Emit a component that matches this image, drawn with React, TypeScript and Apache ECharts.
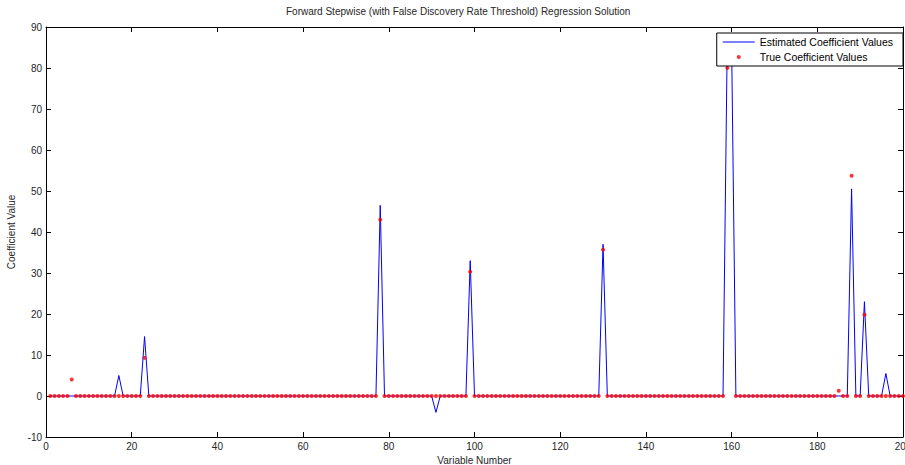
import React, { useEffect, useRef } from "react";
import * as echarts from "echarts";

// ---- Data ----
const N_VARIABLES = 200;
const xTicks = [0, 20, 40, 60, 80, 100, 120, 140, 160, 180, 200];
const yTicks = [-10, 0, 10, 20, 30, 40, 50, 60, 70, 80, 90];

// Estimated coefficients (non-zero entries; all others are 0)
const estimatedIdx = [17, 23, 78, 91, 99, 130, 159, 160, 188, 191, 196];
const estimatedVal = [5, 14.5, 46.5, -4, 33, 37, 88, 86, 50.5, 23, 5.5];

// True coefficients (non-zero entries; all others are 0)
const trueIdx = [6, 23, 78, 99, 130, 159, 160, 185, 188, 191];
const trueVal = [4, 9.3, 43, 30.3, 35.7, 80, 85, 1.3, 53.7, 19.8];

const TITLE = "Forward Stepwise (with False Discovery Rate Threshold) Regression Solution";
const SERIES_EST = "Estimated Coefficient Values";
const SERIES_TRUE = "True Coefficient Values";

function buildSeries(idx: number[], val: number[]): number[][] {
  const out: number[][] = [];
  for (let i = 1; i <= N_VARIABLES; i++) {
    const k = idx.indexOf(i);
    out.push([i, k >= 0 ? val[k] : 0]);
  }
  return out;
}

export default function App() {
  const ref = useRef<HTMLDivElement>(null);
  useEffect(() => {
    if (!ref.current) return;
    const chart = echarts.init(ref.current, undefined, { renderer: "svg" });
    const font = "Liberation Sans, Arial, sans-serif";
    const axisColor = "#000";
    const labelColor = "#262626";
    const xAxisCommon = {
      type: "value",
      min: xTicks[0],
      max: xTicks[xTicks.length - 1],
      interval: 20,
      splitLine: { show: false },
      axisLine: { show: true, onZero: false, lineStyle: { color: axisColor, width: 1 } },
      axisTick: { show: true, inside: true, length: 5, lineStyle: { color: axisColor } },
    };
    const yAxisCommon = {
      type: "value",
      min: yTicks[0],
      max: yTicks[yTicks.length - 1],
      interval: 10,
      splitLine: { show: false },
      axisLine: { show: true, onZero: false, lineStyle: { color: axisColor, width: 1 } },
      axisTick: { show: true, inside: true, length: 5, lineStyle: { color: axisColor } },
    };
    chart.setOption({
      animation: false,
      backgroundColor: "#fff",
      textStyle: { fontFamily: font },
      title: {
        text: TITLE,
        left: 286,
        top: 6,
        padding: 0,
        textStyle: { fontSize: 10, fontWeight: "normal", color: labelColor, fontFamily: font },
      },
      grid: {
        left: 46,
        right: 2,
        top: 27,
        bottom: 28,
        containLabel: false,
        outerBoundsMode: "none",
      },
      legend: {
        orient: "vertical",
        right: 2,
        top: 33,
        z: 20,
        padding: [3, 10, 3, 6],
        itemGap: 3,
        itemWidth: 32,
        itemHeight: 4,
        backgroundColor: "#fff",
        borderColor: "#000",
        borderWidth: 1,
        borderRadius: 0,
        selectedMode: false,
        textStyle: { fontSize: 10.5, color: "#000", fontFamily: font, lineHeight: 12 },
        data: [
          { name: SERIES_EST, icon: "path://M0,0L32,0L32,1L0,1Z" },
          { name: SERIES_TRUE, icon: "circle" },
        ],
      },
      xAxis: [
        {
          ...xAxisCommon,
          position: "bottom",
          name: "Variable Number",
          nameLocation: "middle",
          nameGap: 16,
          nameTextStyle: { fontSize: 10, color: labelColor, fontFamily: font },
          axisLabel: { show: true, fontSize: 10, color: labelColor, margin: 4, fontFamily: font },
        },
        {
          ...xAxisCommon,
          position: "top",
          axisLabel: { show: false },
        },
      ],
      yAxis: [
        {
          ...yAxisCommon,
          position: "left",
          name: "Coefficient Value",
          nameLocation: "middle",
          nameGap: 21,
          nameTextStyle: { fontSize: 10, color: labelColor, fontFamily: font },
          axisLabel: { show: true, fontSize: 10, color: labelColor, margin: 4, fontFamily: font },
        },
        {
          ...yAxisCommon,
          position: "right",
          axisLabel: { show: false },
        },
      ],
      series: [
        {
          name: SERIES_EST,
          type: "line",
          xAxisIndex: 0,
          yAxisIndex: 0,
          data: buildSeries(estimatedIdx, estimatedVal),
          symbol: "none",
          lineStyle: { color: "#0000ff", width: 1 },
          itemStyle: { color: "#0000ff" },
          clip: true,
          z: 2,
        },
        {
          name: SERIES_TRUE,
          type: "scatter",
          xAxisIndex: 0,
          yAxisIndex: 0,
          data: buildSeries(trueIdx, trueVal),
          symbol: "circle",
          symbolSize: 4,
          itemStyle: { color: "#ff0000" },
          clip: true,
          z: 3,
        },
      ],
    });
    return () => chart.dispose();
  }, []);
  return (
    <div
      ref={ref}
      style={{ position: "fixed", left: 0, top: 0, width: 905, height: 465 }}
    />
  );
}
